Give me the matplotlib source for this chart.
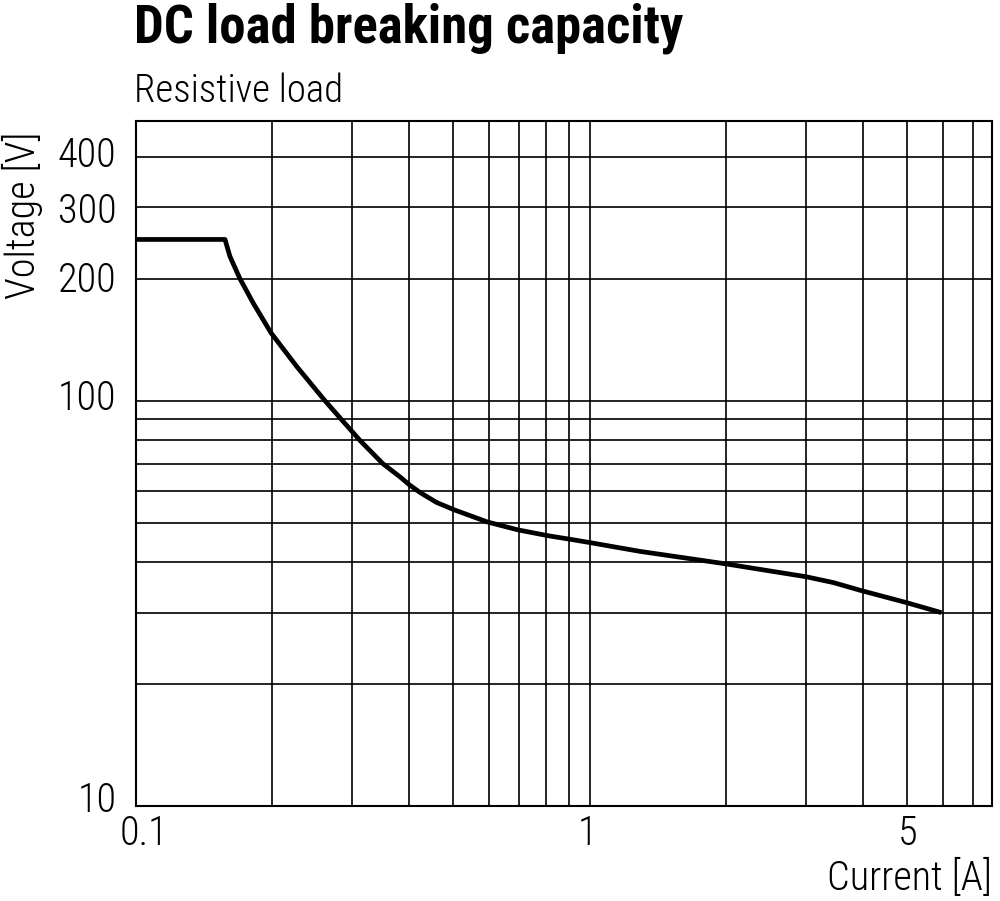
import matplotlib
matplotlib.use("Agg")
import matplotlib.pyplot as plt
from matplotlib.ticker import FixedLocator, FixedFormatter, NullLocator
from matplotlib.transforms import ScaledTranslation

FONT = ['Roboto Condensed', 'DejaVu Sans']

# Data
current_a = [0.1, 0.1573, 0.1613, 0.1697, 0.1816, 0.1987, 0.2263, 0.2612, 0.2852,
             0.3120, 0.3500, 0.3821, 0.4017, 0.4228, 0.4603, 0.5033, 0.596,
             0.696, 0.814, 0.897, 0.998, 1.29, 1.99, 2.54, 2.995, 3.44, 3.97,
             4.97, 5.96]
voltage_v = [250, 250, 227, 200, 174, 147, 121.5, 100, 89.4,
             79.8, 70, 64.9, 61.9, 59.4, 56.1, 53.8, 50.2,
             48.0, 46.4, 45.6, 44.7, 42.5, 39.6, 37.9, 36.8, 35.6, 34.0,
             31.8, 30.0]

x_grid = [0.1, 0.2, 0.3, 0.4, 0.5, 0.6, 0.7, 0.8, 0.9, 1, 2, 3, 4, 5, 6, 7]
x_labels = ['0.1', '', '', '', '', '', '', '', '', '1', '', '', '', '5', '', '']
y_grid = [10, 20, 30, 40, 50, 60, 70, 80, 90, 100, 200, 300, 400]
y_labels = ['10', '', '', '', '', '', '', '', '', '100', '200', '300', '400']

title = "DC load breaking capacity"
subtitle = "Resistive load"
xlabel = "Current [A]"
ylabel = "Voltage [V]"

fig = plt.figure(figsize=(10.0, 9.01), dpi=100)
ax = fig.add_axes([0.1357, 0.1054, 0.8563, 0.7603])
ax.set_xscale('log')
ax.set_yscale('log')
ax.set_xlim(0.1, 7.7)
ax.set_ylim(10, 490)

ax.xaxis.set_major_locator(FixedLocator(x_grid))
ax.xaxis.set_major_formatter(FixedFormatter(x_labels))
ax.xaxis.set_minor_locator(NullLocator())
ax.yaxis.set_major_locator(FixedLocator(y_grid))
ax.yaxis.set_major_formatter(FixedFormatter(y_labels))
ax.yaxis.set_minor_locator(NullLocator())

ax.grid(True, which='major', color='black', linewidth=1.2)
ax.tick_params(axis='both', length=0, labelsize=29, colors='black')
ax.tick_params(axis='y', pad=14)
ax.tick_params(axis='x', pad=6)
for sp in ax.spines.values():
    sp.set_linewidth(1.5)
    sp.set_color('black')

# small per-label nudges (pixels) to follow the reference placement
x_nudge = {'0.1': (8, 0), '1': (-2, 0), '5': (1, 0)}
y_nudge = {'10': (0, 9), '100': (0, 6), '200': (0, 2), '300': (0, 0), '400': (0, 5)}
for tick, lab in zip(ax.xaxis.get_major_ticks(), x_labels):
    t = tick.label1
    t.set_family(FONT)
    t.set_fontweight(300)
    if lab in x_nudge:
        dx, dy = x_nudge[lab]
        t.set_transform(t.get_transform() + ScaledTranslation(dx / 100, dy / 100, fig.dpi_scale_trans))
for tick, lab in zip(ax.yaxis.get_major_ticks(), y_labels):
    t = tick.label1
    t.set_family(FONT)
    t.set_fontweight(300)
    if lab in y_nudge:
        dx, dy = y_nudge[lab]
        t.set_transform(t.get_transform() + ScaledTranslation(dx / 100, dy / 100, fig.dpi_scale_trans))

ax.plot(current_a, voltage_v, color='black', linewidth=3.4,
        solid_joinstyle='round', solid_capstyle='butt', zorder=5, clip_on=False)

fig.text(0.134, 1 - 43 / 901, title, family=FONT, fontweight='bold', fontsize=38,
         ha='left', va='baseline')
fig.text(0.134, 1 - 101.7 / 901, subtitle, family=FONT, fontweight=300, fontsize=28,
         ha='left', va='baseline')
fig.text(0.022, 1 - 215 / 901, ylabel, family=FONT, fontweight=300, fontsize=29,
         rotation=90, ha='center', va='center')
fig.text(0.992, 1 - 890 / 901, xlabel, family=FONT, fontweight=300, fontsize=29,
         ha='right', va='baseline')

fig.savefig('out.png', dpi=100, facecolor='white')
